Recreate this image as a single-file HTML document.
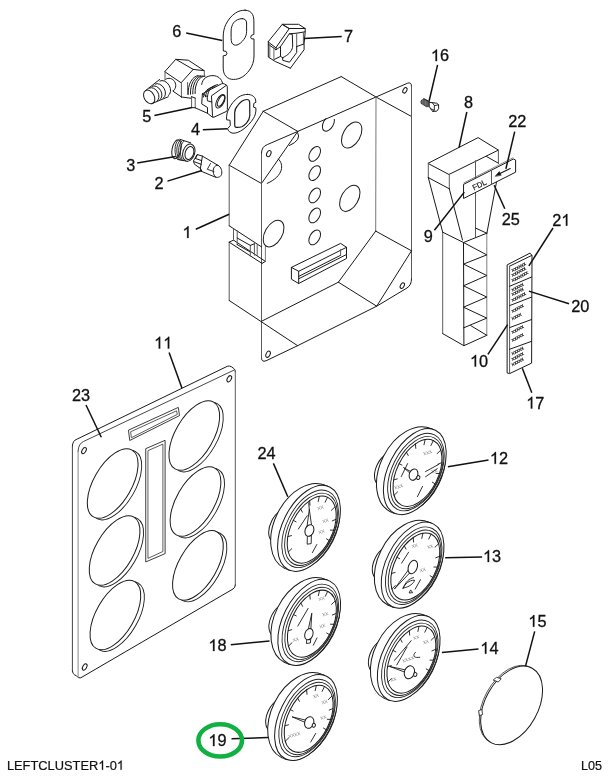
<!DOCTYPE html>
<html><head><meta charset="utf-8"><style>
html,body{margin:0;padding:0;background:#fff;width:610px;height:777px;overflow:hidden}
svg{display:block;will-change:transform}
</style></head><body>
<svg width="610" height="777" viewBox="0 0 610 777">
<rect width="610" height="777" fill="#fff"/>
<g fill="none" stroke="#1a1a1a" stroke-width="1" stroke-linejoin="round" stroke-linecap="round">
<line x1="341.2" y1="76.6" x2="263.2" y2="111.3"/>
<line x1="341.2" y1="76.6" x2="376" y2="97"/>
<line x1="376" y1="97" x2="411.5" y2="116.5"/>
<path d="M376,97 L407.5,83.2 Q411.5,81.8 411.5,86"/>
<line x1="411.5" y1="86" x2="411.5" y2="279" stroke="#5a5a5a"/>
<path d="M411.5,279 Q411.5,285 407,288 L376.7,306.2 L297.6,345.7 L266,360.8 Q261.5,362.5 261.5,358"/>
<line x1="261.5" y1="358" x2="261.5" y2="183.5" stroke="#5a5a5a"/>
<line x1="263.2" y1="111.3" x2="297.8" y2="131.4"/>
<line x1="297.8" y1="131.4" x2="376" y2="97"/>
<line x1="263.2" y1="111.3" x2="229.2" y2="165.2"/>
<line x1="229.2" y1="165.2" x2="261.5" y2="183.5"/>
<line x1="297.8" y1="131.4" x2="261.5" y2="183.5"/>
<line x1="261.5" y1="183.5" x2="261.5" y2="153" stroke="#5a5a5a"/>
<path d="M261.5,153 Q261.5,146.5 267.5,144.5 L297.8,131.4"/>
<line x1="229.2" y1="165.2" x2="229.2" y2="225.8" stroke="#5a5a5a"/>
<line x1="229.2" y1="225.8" x2="261.7" y2="247"/>
<line x1="229.2" y1="242.2" x2="229.2" y2="300.5" stroke="#5a5a5a"/>
<line x1="229.2" y1="242.2" x2="262" y2="263.4"/>
<line x1="233.5" y1="240.1" x2="265.4" y2="261.4"/>
<line x1="262" y1="263.4" x2="265.4" y2="261.4"/>
<line x1="229.2" y1="242.2" x2="233.5" y2="240.1"/>
<line x1="229.2" y1="300.5" x2="297.6" y2="345.7"/>
<line x1="233.5" y1="229" x2="233.5" y2="240.1" stroke="#5a5a5a"/>
<line x1="237.2" y1="230.6" x2="237.2" y2="244.6" stroke="#5a5a5a"/>
<line x1="237.2" y1="238" x2="250.3" y2="245.4"/>
<line x1="237.2" y1="244.6" x2="250.3" y2="252"/>
<line x1="250.3" y1="245.4" x2="250.3" y2="256" stroke="#5a5a5a"/>
<line x1="254.4" y1="243.8" x2="254.4" y2="255.3" stroke="#5a5a5a"/>
<line x1="257.2" y1="244.6" x2="257.2" y2="255.3" stroke="#5a5a5a"/>
<line x1="250.3" y1="245.4" x2="254.4" y2="243.8"/>
<line x1="265.4" y1="246.3" x2="265.4" y2="261.4" stroke="#777"/>
<line x1="376" y1="97" x2="375.7" y2="231.1" stroke="#777"/>
<line x1="375.7" y1="231.1" x2="338.4" y2="282.2"/>
<line x1="375.7" y1="231.1" x2="411.5" y2="250.8"/>
<line x1="411.5" y1="250.8" x2="376.7" y2="306.2"/>
<line x1="338.4" y1="282.2" x2="376.7" y2="306.2"/>
<line x1="338.4" y1="282.2" x2="261.5" y2="321.3"/>
<ellipse cx="404.9" cy="90.3" rx="1.8" ry="3" transform="rotate(30 404.9 90.3)"/>
<ellipse cx="402.3" cy="285.6" rx="1.8" ry="3" transform="rotate(30 402.3 285.6)"/>
<ellipse cx="268.8" cy="153.6" rx="2" ry="3.3" transform="rotate(25 268.8 153.6)"/>
<ellipse cx="268.1" cy="354.2" rx="2" ry="3.3" transform="rotate(25 268.1 354.2)"/>
<clipPath id="cb"><polygon points="297.8,131.4 376,97 376,300 297.8,300"/></clipPath>
<ellipse cx="328.4" cy="123.5" rx="5" ry="8.4" transform="rotate(29.6 328.4 123.5)" clip-path="url(#cb)"/>
<ellipse cx="351.7" cy="135" rx="8.5" ry="14.2" transform="rotate(29.6 351.7 135)"/>
<ellipse cx="349.8" cy="198.3" rx="8.5" ry="14.2" transform="rotate(29.6 349.8 198.3)"/>
<ellipse cx="314.7" cy="153.9" rx="4.9" ry="8.1" transform="rotate(29.6 314.7 153.9)"/>
<ellipse cx="314.7" cy="173.1" rx="4.9" ry="8.1" transform="rotate(29.6 314.7 173.1)"/>
<ellipse cx="314.7" cy="195.4" rx="4.9" ry="8.1" transform="rotate(29.6 314.7 195.4)"/>
<ellipse cx="314.7" cy="215.4" rx="4.9" ry="8.1" transform="rotate(29.6 314.7 215.4)"/>
<ellipse cx="314.7" cy="237.4" rx="4.9" ry="8.1" transform="rotate(29.6 314.7 237.4)"/>
<ellipse cx="273.6" cy="233.6" rx="8.6" ry="14.5" transform="rotate(29.6 273.6 233.6)"/>
<path d="M297.6,132.5 Q302,140 289.5,145.5"/>
<path d="M278.4,159.1 C284,164 284,176 267.2,183.4"/>
<polyline points="298.7,271.3 291.4,267.4 340.6,243.4 346.5,247.3 298.7,271.3 298.7,283.5 291.4,279.2 291.4,267.4"/>
<polyline points="346.5,247.3 346.5,258.5 298.7,283.5"/>
<line x1="298.7" y1="276.4" x2="340.6" y2="255.3"/>
<line x1="298.7" y1="278.8" x2="346.5" y2="254.5"/>
<line x1="340.6" y1="249.5" x2="340.6" y2="255.3" stroke="#5a5a5a"/>
<path d="M245.1,10.2 C248.5,10.2 251.2,11.8 252.6,14.5 C253.7,16.8 253.9,19.5 253.9,22 L253.9,34.4 L251.3,35.4 L250.7,37.6 L251.6,38.9 L254,38.9 L254,56 C254,61 252.5,66 249.5,70 C247,73.5 244,76.5 240,78.2 C237,79.4 234,79.6 231.5,79.3 C228.5,78.8 226,77 224.6,74.5 C223.6,72.5 223.2,70 223.2,67 L223.2,55.8 L226,55.3 L227,53.2 L226,51.3 L223.3,51 L223.2,37 C223.2,33 224,28 225.8,24.5 C228,20 231.5,15.5 235.5,13 C238.5,11 241.5,10.2 245.1,10.2 Z"/>
<path d="M242.3,18.6 C244.5,18.6 246.6,20 246.6,23 L246.6,31.5 C246.6,34 245.8,37 243.8,39.5 C242,42 239.5,44.3 237,45 C235,45.5 233,45 231.9,43 C231.2,41.5 231.1,39.5 231.1,37.5 L231.1,31 C231.1,28 232,25 233.6,22.8 C235.5,20.3 238.8,18.6 242.3,18.6 Z"/>
<path d="M247.7,94.4 C251.5,94.4 255,96.5 255.6,100 L255.9,102.3 L253.8,103.4 L253.6,107.2 L255.9,108 C256.3,112 255,116 253.4,118.5 C251,122.5 247,126.5 243,129.5 C239.5,132 236,133.4 232.9,133.2 C230,132.8 228.2,131 227.6,128.6 L230.3,125.6 L230,120.3 L226.6,119.8 C226.2,116 227.2,111.5 228.9,108.8 C231,104.5 234,100.5 238,97.5 C241,95.3 244.5,94.4 247.7,94.4 Z" fill="#fff"/>
<path d="M247.1,99.5 C248.5,99.5 249.6,100.5 249.7,102.5 L249.8,115.5 C249.6,118.5 248.5,121 246.5,123.2 C245,124.8 243.5,126 241.8,126.7 C239.5,127.5 237.5,127.6 235.8,127.3 C234.9,127 234.6,125.8 234.7,124.3 L234.7,112.5 C234.9,110 235.6,108 237,106.5 C238.5,104.3 240,102.7 241.8,101.3 C243.5,100 245.3,99.5 247.1,99.5 Z" stroke-width="1.2"/>
<polygon points="282.3,24.3 298.6,24.3 305.2,28.5 289.3,28.5"/>
<polygon points="268.3,41.6 282.3,24.3 289.3,28.5 276.1,47.4"/>
<polyline points="268.3,41.6 268.3,44.3 276.1,49.8 276.1,47.4"/>
<polyline points="276.1,49.8 280.5,46.6 289.3,33.8 296.7,33.2 305.2,31.8 305.2,28.5"/>
<line x1="296.7" y1="33.2" x2="296.7" y2="46.5" stroke="#5a5a5a"/>
<line x1="303.4" y1="32.2" x2="303.4" y2="44.2" stroke="#5a5a5a"/>
<line x1="296.7" y1="46.5" x2="303.4" y2="44.2"/>
<polyline points="305.2,31.8 304.1,43.8 304.1,49.7 290.4,68.2"/>
<line x1="269.8" y1="44.6" x2="269.8" y2="57.4" stroke="#666"/>
<line x1="273.9" y1="47.6" x2="273.9" y2="59.8" stroke="#666"/>
<polyline points="268.3,44.3 268.3,57.1 275.3,61.5 290.4,68.2"/>
<path d="M289.3,33.8 L292.3,34.3 L292.7,46 C292.5,50 289.5,54 284.7,56.6 L282.7,57.8"/>
<polyline points="280.5,46.6 280.5,56.4 282.7,57.8"/>
<polyline points="274.6,59.3 280.5,56.4"/>
<polyline points="282.7,57.8 282.7,60.3 289.5,62.2 296.7,52.5 296.7,46.5"/>
<path d="M197.5,154.6 L202.4,156.1 L218.1,165.4 C221,167 222.5,171 221.5,174.5 C220.5,177.5 217,178 214,176.6 L201.4,171.3 L200.4,168.4 L194.5,164.3 L193.5,161.5 Z" fill="#fff"/>
<path d="M218.1,165.4 C215,164.8 213,168 213.2,171.5 C213.4,174.5 214.5,176.4 216,177.2"/>
<line x1="202.4" y1="156.1" x2="200.4" y2="168.4"/>
<line x1="195.5" y1="158.5" x2="201.6" y2="160.6"/>
<line x1="194.4" y1="161.8" x2="201.1" y2="164.3"/>
<line x1="197.5" y1="154.6" x2="195.5" y2="158.5"/>
<line x1="200.4" y1="168.4" x2="201.4" y2="171.3"/>
<polyline points="210.5,163.5 207.3,169.3 214,171.5" stroke-width="0.9"/>
<path d="M179.8,139.3 L190.6,142.8 L186.8,161.2 L177.8,159.5" stroke="none" fill="#fff"/>
<ellipse cx="176.5" cy="149.3" rx="4.4" ry="9.6" fill="#fff" transform="rotate(12 176.5 149.3)"/>
<path d="M178.5,139.8 C173.8,143 173.8,156 178.1,159.8" stroke-width="0.9"/>
<path d="M180.3,140.3 C175.6,143.5 175.6,156.5 179.9,160.2" stroke-width="0.9"/>
<path d="M182.1,140.8 C177.4,144 177.4,157 181.7,160.6" stroke-width="0.9"/>
<path d="M183.8,141.3 C179.1,144.5 179.1,157.5 183.4,161" stroke-width="0.9"/>
<line x1="179.8" y1="139.3" x2="190.6" y2="142.8"/>
<line x1="177.8" y1="159.5" x2="187.5" y2="161.2"/>
<ellipse cx="188.8" cy="152.6" rx="5.9" ry="8.8" fill="#fff" transform="rotate(18 188.8 152.6)"/>
<ellipse cx="189.4" cy="153" rx="4.2" ry="6.6" transform="rotate(18 189.4 153)"/>
<polygon points="421.3,100.6 423.8,98.5 429.6,101.6 429.4,106.6 426.5,106.7 421.4,103.6" stroke-width="0.8" fill="#3a3a3a"/>
<line x1="422.6" y1="99.3" x2="422.8" y2="104.3" stroke-width="0.5" stroke="#bbb"/>
<line x1="424" y1="100" x2="424.2" y2="104.8" stroke-width="0.5" stroke="#bbb"/>
<line x1="425.4" y1="100.8" x2="425.6" y2="105.4" stroke-width="0.5" stroke="#bbb"/>
<line x1="426.8" y1="101.5" x2="427" y2="106" stroke-width="0.5" stroke="#bbb"/>
<line x1="428.2" y1="102.3" x2="428.4" y2="106.5" stroke-width="0.5" stroke="#bbb"/>
<polygon points="429.3,102.4 436.7,103.2 438.6,104.8 438.6,108.7 436.7,111.2 432.7,111.4 430.5,108.6 429.4,106.6" fill="#fff"/>
<polyline points="432.3,102.7 434.4,105.6 434.3,110.2 432.7,111.4" stroke-width="0.9"/>
<line x1="434.4" y1="105.6" x2="438.6" y2="104.8" stroke-width="0.9"/>
<line x1="430.5" y1="108.6" x2="434.3" y2="110.2" stroke-width="0.8"/>
<ellipse cx="149.2" cy="96.9" rx="5" ry="7.3" fill="#fff" transform="rotate(-30 149.2 96.9)"/>
<path d="M149.4,88.1 A5.2,7.5 -30 0 1 156.9,101.1"/>
<path d="M152.1,86.3 A5.3,7.7 -30 0 1 159.8,99.7"/>
<path d="M155.2,84.1 A5.5,8 -30 0 1 163.3,98.1"/>
<path d="M159.9,81 A5.8,8.4 -30 0 1 168.3,95.6"/>
<line x1="145.5" y1="90.6" x2="159.6" y2="79.5"/>
<line x1="152.9" y1="103.2" x2="168.2" y2="96.8"/>
<path d="M165,79.9 C167,77.6 171,77.6 173.8,80.5 C176.5,83.5 176.5,88 173.5,90.7"/>
<polygon points="165,71.4 175.8,59.3 193.2,69.4 181.4,82.5" fill="#fff"/>
<polyline points="175.8,59.3 188.3,60.2 204.3,70.7 193.2,69.4"/>
<line x1="165" y1="71.4" x2="165" y2="79.9" stroke="#5a5a5a"/>
<line x1="181.4" y1="82.5" x2="181.4" y2="97" stroke="#5a5a5a"/>
<line x1="172.9" y1="91.1" x2="181.4" y2="97"/>
<line x1="181.4" y1="97" x2="191.4" y2="98.3"/>
<line x1="204.3" y1="70.7" x2="204.3" y2="76.6" stroke="#5a5a5a"/>
<path d="M188.2,94.5 C187.7,84 192.2,76.5 198.2,75.5"/>
<path d="M190.5,94.2 C190,84 194.5,76.3 200.5,75.7"/>
<path d="M192.8,93.9 C192.3,84 196.8,76.1 202.8,75.9"/>
<path d="M195.1,93.6 C194.6,84 199.1,75.9 205.1,76.1"/>
<line x1="187.6" y1="82.5" x2="187.6" y2="94.3" stroke="#5a5a5a"/>
<path d="M201.7,84.4 C202.5,78.5 207,75.6 213,75.6 C218,75.8 221.8,78.8 222.6,83.4"/>
<line x1="191.6" y1="96.7" x2="191.6" y2="107.5" stroke="#5a5a5a"/>
<line x1="195.2" y1="98.1" x2="195.2" y2="107.5" stroke="#5a5a5a"/>
<line x1="191.6" y1="107.5" x2="195.2" y2="107.8"/>
<line x1="195.2" y1="107.8" x2="207.5" y2="113.3"/>
<line x1="191.6" y1="96.7" x2="195.2" y2="98.1"/>
<path d="M202.4,93.8 L221.5,83.8 Q222.8,83.2 224.2,83.9 L226.4,85.1" fill="#fff"/>
<path d="M211.8,95.6 L226,85.6 Q227.2,85 227.3,86.5 L227.4,109.5 Q227.4,111 226,111.6 L214,117.2 Q212.5,117.8 212.5,116.2 Z" fill="#fff"/>
<polyline points="202.4,93.8 201.7,103.9 207.5,107.5 207.5,113.3 212.4,117.2"/>
<polyline points="202.4,93.8 207.2,96.5 207.4,100.8 211.8,102"/>
<path d="M203.5,97 C204,91 208,88 213.5,87"/>
<path d="M205.5,96.8 C206,90.2 210,87 215.5,85.8"/>
<path d="M207.5,96.6 C208,89.4 212,86 217.5,84.6"/>
<ellipse cx="220.4" cy="101.3" rx="3.6" ry="7.4" transform="rotate(28 220.4 101.3)"/>
<ellipse cx="221" cy="100.8" rx="2.5" ry="6" transform="rotate(28 221 100.8)"/>
<polygon points="428.3,163.2 478.1,137.6 498.4,150.1 449.3,174.3"/>
<line x1="428.3" y1="163.2" x2="428.3" y2="177.6" stroke="#5a5a5a"/>
<line x1="449.3" y1="174.3" x2="449.3" y2="188.8" stroke="#5a5a5a"/>
<line x1="428.3" y1="177.6" x2="449.3" y2="188.8"/>
<line x1="498.4" y1="150.1" x2="498.4" y2="163.2" stroke="#5a5a5a"/>
<line x1="475.5" y1="160.6" x2="475.5" y2="178.3" stroke="#5a5a5a"/>
<line x1="486.5" y1="156.5" x2="498.4" y2="163.2"/>
<line x1="428.3" y1="177.6" x2="442.7" y2="232.2"/>
<line x1="449.3" y1="188.8" x2="462.5" y2="240"/>
<line x1="475.5" y1="178.3" x2="475.5" y2="237.4" stroke="#5a5a5a"/>
<line x1="496.5" y1="182" x2="486.9" y2="233.2"/>
<line x1="442.7" y1="232.2" x2="442.7" y2="333.6" stroke="#5a5a5a"/>
<polyline points="442.7,333.6 463.9,345.7 486.8,335.3"/>
<line x1="486.8" y1="335.3" x2="486.8" y2="233.2" stroke="#808080"/>
<line x1="442.7" y1="232.2" x2="463.5" y2="242.5"/>
<line x1="463.5" y1="242.5" x2="463.9" y2="345.7"/>
<line x1="463.5" y1="242.5" x2="486.8" y2="233.2"/>
<line x1="475.6" y1="228.1" x2="486.8" y2="233.2"/>
<polyline points="463.5,242.5 486.8,254.9 463.5,264.1 486.8,275.5 463.5,285.8 486.8,297.1 463.5,307.2 486.8,318.1 463.5,327.9"/>
<line x1="470.7" y1="325.6" x2="486.8" y2="335.3"/>
<polygon points="463.9,184.2 513.4,159 515.6,160 515.6,172.2 463.9,198.3" fill="#fff"/>
<line x1="463.9" y1="182.9" x2="513" y2="157.8" stroke-width="0.8" stroke="#666"/>
<line x1="491.5" y1="170.8" x2="491.5" y2="184.4" stroke="#5a5a5a"/>
<text x="0" y="0" font-size="7.8" fill="#222" stroke="#222" stroke-width="0.15" font-family="Liberation Sans, sans-serif" transform="translate(474.0,190.6) rotate(-27)">FDL</text>
<line x1="510.2" y1="168.6" x2="499" y2="174.1" stroke-width="1.1"/>
<path d="M495.4,176.1 L499.3,171.6 L501.0,175.0 Z" stroke-width="0.6" fill="#111"/>
<polygon points="507.5,264.7 530,253.1 532,255.4 531.6,363.1 509.6,373.6 507.5,373" fill="#fff"/>
<line x1="509.6" y1="266.2" x2="531.6" y2="255.5"/>
<line x1="509.6" y1="266.2" x2="509.6" y2="373.6" stroke="#5a5a5a"/>
<line x1="509.6" y1="286.3" x2="531.6" y2="277"/>
<line x1="509.6" y1="305.6" x2="531.6" y2="297.1"/>
<line x1="509.6" y1="327.6" x2="531.6" y2="319.5"/>
<line x1="509.6" y1="349.3" x2="531.6" y2="341.3"/>
<text x="0" y="0" font-size="3.9" fill="#222" stroke="#222" stroke-width="0.3" font-family="Liberation Sans, sans-serif" transform="translate(512.6,272) rotate(-28)">XXXXXX</text>
<text x="0" y="0" font-size="3.9" fill="#222" stroke="#222" stroke-width="0.3" font-family="Liberation Sans, sans-serif" transform="translate(512.6,276.7) rotate(-28)">XXXXXX</text>
<text x="0" y="0" font-size="3.9" fill="#222" stroke="#222" stroke-width="0.3" font-family="Liberation Sans, sans-serif" transform="translate(512.6,282.1) rotate(-28)">XXXXXXX</text>
<text x="0" y="0" font-size="3.9" fill="#222" stroke="#222" stroke-width="0.3" font-family="Liberation Sans, sans-serif" transform="translate(512.6,291.4) rotate(-28)">XXXXX</text>
<text x="0" y="0" font-size="3.9" fill="#222" stroke="#222" stroke-width="0.3" font-family="Liberation Sans, sans-serif" transform="translate(512.6,296) rotate(-28)">XXXXX</text>
<text x="0" y="0" font-size="3.9" fill="#222" stroke="#222" stroke-width="0.3" font-family="Liberation Sans, sans-serif" transform="translate(512.6,301.8) rotate(-28)">XXXXXX</text>
<text x="0" y="0" font-size="3.9" fill="#222" stroke="#222" stroke-width="0.3" font-family="Liberation Sans, sans-serif" transform="translate(512.6,312.7) rotate(-28)">XXXXX</text>
<text x="0" y="0" font-size="3.9" fill="#222" stroke="#222" stroke-width="0.3" font-family="Liberation Sans, sans-serif" transform="translate(512.6,320.2) rotate(-28)">XXXX</text>
<text x="0" y="0" font-size="3.9" fill="#222" stroke="#222" stroke-width="0.3" font-family="Liberation Sans, sans-serif" transform="translate(512.6,333.7) rotate(-28)">XXXXX</text>
<text x="0" y="0" font-size="3.9" fill="#222" stroke="#222" stroke-width="0.3" font-family="Liberation Sans, sans-serif" transform="translate(512.6,341.7) rotate(-28)">XXXXX</text>
<text x="0" y="0" font-size="3.9" fill="#222" stroke="#222" stroke-width="0.3" font-family="Liberation Sans, sans-serif" transform="translate(512.6,355.2) rotate(-28)">XXXXX</text>
<text x="0" y="0" font-size="3.9" fill="#222" stroke="#222" stroke-width="0.3" font-family="Liberation Sans, sans-serif" transform="translate(512.6,360.7) rotate(-28)">XXXXX</text>
<text x="0" y="0" font-size="3.9" fill="#222" stroke="#222" stroke-width="0.3" font-family="Liberation Sans, sans-serif" transform="translate(512.6,366.2) rotate(-28)">XXXXX</text>
<g>
<path d="M72.4,446 Q72.6,440.5 77.1,439.1 L227.3,366.3 Q229.5,365.5 231.5,366.8 L233.8,368.5 Q235.3,369.6 235.3,371.5"/>
<line x1="235.3" y1="371.5" x2="235.3" y2="585" stroke="#5a5a5a"/>
<path d="M235.3,585 Q235.3,587.6 233,589 L80.8,677.8 Q78,678.6 76.5,675.8 Q72.4,674.5 72.4,670.5"/>
<line x1="72.4" y1="670.5" x2="72.4" y2="446" stroke="#444"/>
<line x1="78.1" y1="676.5" x2="78.1" y2="451.2" stroke="#888"/>
<path d="M78.1,451.2 Q78.4,443.5 83.7,441.4 L233.8,370.2" stroke-width="0.9" stroke="#333"/>
<ellipse cx="84" cy="450.6" rx="1.9" ry="3.4" transform="rotate(30 84 450.6)"/>
<ellipse cx="229.3" cy="378.8" rx="1.9" ry="3.4" transform="rotate(30 229.3 378.8)"/>
<ellipse cx="84.7" cy="667" rx="1.9" ry="3.4" transform="rotate(30 84.7 667)"/>
<ellipse cx="116.3" cy="485.1" rx="19" ry="38.6" stroke-width="0.9" transform="rotate(30 116.3 485.1)"/>
<ellipse cx="112.7" cy="483.5" rx="19" ry="38.6" fill="#fff" transform="rotate(30 112.7 483.5)"/>
<ellipse cx="118.2" cy="552.1" rx="19" ry="38.6" stroke-width="0.9" transform="rotate(30 118.2 552.1)"/>
<ellipse cx="114.6" cy="550.5" rx="19" ry="38.6" fill="#fff" transform="rotate(30 114.6 550.5)"/>
<ellipse cx="119" cy="616.6" rx="19" ry="38.6" stroke-width="0.9" transform="rotate(30 119 616.6)"/>
<ellipse cx="115.4" cy="615" rx="19" ry="38.6" fill="#fff" transform="rotate(30 115.4 615)"/>
<ellipse cx="197.9" cy="437.1" rx="19" ry="38.6" stroke-width="0.9" transform="rotate(30 197.9 437.1)"/>
<ellipse cx="194.3" cy="435.5" rx="19" ry="38.6" fill="#fff" transform="rotate(30 194.3 435.5)"/>
<ellipse cx="199.1" cy="503.1" rx="19" ry="38.6" stroke-width="0.9" transform="rotate(30 199.1 503.1)"/>
<ellipse cx="195.5" cy="501.5" rx="19" ry="38.6" fill="#fff" transform="rotate(30 195.5 501.5)"/>
<ellipse cx="201.5" cy="567" rx="19" ry="38.6" stroke-width="0.9" transform="rotate(30 201.5 567)"/>
<ellipse cx="197.9" cy="565.4" rx="19" ry="38.6" fill="#fff" transform="rotate(30 197.9 565.4)"/>
<polygon points="128.8,430 178.3,407.4 179.5,415.6 130.1,440.3" stroke-width="0.85"/>
<polygon points="131,431.6 176.6,410.8 177.3,414.4 131.7,437.6" stroke-width="0.8" stroke="#333"/>
<polygon points="146.1,448.5 165.1,440.3 165.1,553.6 146.1,561.8" stroke-width="0.85"/>
<polygon points="148.3,450.5 162.9,444.1 162.9,551.5 148.3,558.2" stroke-width="0.8" stroke="#333"/>
</g>
<ellipse cx="386.4" cy="468.8" rx="10" ry="17.6" fill="#fff" transform="rotate(26.6 386.4 468.8)"/>
<ellipse cx="411" cy="470.4" rx="30.9" ry="46.2" fill="#fff" transform="rotate(26.6 411 470.4)"/>
<polygon points="428.7,427.9 433.4,429.4 396.2,513.8 393.3,512.9" stroke="none" fill="#fff"/>
<line x1="428.7" y1="427.9" x2="433.4" y2="429.4"/>
<line x1="393.3" y1="512.9" x2="396.2" y2="513.8"/>
<ellipse cx="414.8" cy="471.6" rx="26.4" ry="46.2" stroke-width="1.0" fill="#fff" transform="rotate(26.6 414.8 471.6)"/>
<ellipse cx="415.9" cy="472.1" rx="23.8" ry="41.6" stroke-width="0.9" stroke="#222" transform="rotate(26.6 415.9 472.1)"/>
<ellipse cx="416.8" cy="472.6" rx="22.2" ry="38.8" stroke-width="0.9" stroke="#222" transform="rotate(26.6 416.8 472.6)"/>
<ellipse cx="417.5" cy="472.9" rx="20.6" ry="36" stroke-width="1.0" transform="rotate(26.6 417.5 472.9)"/>
<line x1="394" y1="495.4" x2="397.6" y2="491.9" stroke-width="0.9"/>
<line x1="393.7" y1="479.9" x2="397.3" y2="478.9" stroke-width="0.9"/>
<line x1="399.1" y1="463.7" x2="401.9" y2="465.1" stroke-width="0.9"/>
<line x1="406.5" y1="452.3" x2="408.2" y2="455.5" stroke-width="0.9"/>
<line x1="415.4" y1="443.9" x2="415.8" y2="448.4" stroke-width="0.9"/>
<line x1="425.1" y1="439.7" x2="424" y2="444.8" stroke-width="0.9"/>
<line x1="433.3" y1="440.6" x2="430.9" y2="445.5" stroke-width="0.9"/>
<line x1="440.8" y1="450.1" x2="437.2" y2="453.6" stroke-width="0.9"/>
<line x1="441.8" y1="462.6" x2="438" y2="464.2" stroke-width="0.9"/>
<line x1="439.4" y1="473.5" x2="436.1" y2="473.4" stroke-width="0.9"/>
<line x1="435" y1="483.8" x2="432.3" y2="482.2" stroke-width="0.9"/>
<text x="423.8" y="455.6" font-size="4.6" fill="#777" stroke="none" font-family="Liberation Sans, sans-serif" transform="rotate(-18 423.8 455.6)">XXX</text>
<text x="394.8" y="489.6" font-size="4.6" fill="#777" stroke="none" font-family="Liberation Sans, sans-serif" transform="rotate(-18 394.8 489.6)">XXX</text>
<text x="431.8" y="473.6" font-size="4.6" fill="#777" stroke="none" font-family="Liberation Sans, sans-serif" transform="rotate(-18 431.8 473.6)">XX</text>
<line x1="425.5" y1="471.6" x2="438.8" y2="464.3" stroke-width="0.9"/>
<line x1="425.5" y1="476.8" x2="437.3" y2="468.7" stroke-width="0.9"/>
<line x1="417.4" y1="496.7" x2="422.5" y2="486.4" stroke-width="0.9"/>
<line x1="401.3" y1="476.5" x2="407.6" y2="463.6" stroke-width="0.9"/>
<path d="M414.2,473.6 L403.5,467.5 L412.8,475.6" stroke-width="0.9"/>
<ellipse cx="413.5" cy="474.6" rx="4.2" ry="5.8" fill="#fff" transform="rotate(20 413.5 474.6)"/>
<ellipse cx="418.3" cy="477.6" rx="1.6" ry="2" fill="#fff" transform="rotate(20 418.3 477.6)"/>
<ellipse cx="280.6" cy="525.5" rx="10" ry="17.6" fill="#fff" transform="rotate(26.6 280.6 525.5)"/>
<ellipse cx="305.2" cy="527.1" rx="30.9" ry="46.2" fill="#fff" transform="rotate(26.6 305.2 527.1)"/>
<polygon points="322.9,484.6 327.6,486.1 290.4,570.5 287.5,569.6" stroke="none" fill="#fff"/>
<line x1="322.9" y1="484.6" x2="327.6" y2="486.1"/>
<line x1="287.5" y1="569.6" x2="290.4" y2="570.5"/>
<ellipse cx="309" cy="528.3" rx="26.4" ry="46.2" stroke-width="1.0" fill="#fff" transform="rotate(26.6 309 528.3)"/>
<ellipse cx="310.1" cy="528.8" rx="23.8" ry="41.6" stroke-width="0.9" stroke="#222" transform="rotate(26.6 310.1 528.8)"/>
<ellipse cx="311" cy="529.3" rx="22.2" ry="38.8" stroke-width="0.9" stroke="#222" transform="rotate(26.6 311 529.3)"/>
<ellipse cx="311.7" cy="529.6" rx="20.6" ry="36" stroke-width="1.0" transform="rotate(26.6 311.7 529.6)"/>
<line x1="288.2" y1="552.1" x2="291.8" y2="548.6" stroke-width="0.9"/>
<line x1="287.9" y1="536.6" x2="291.5" y2="535.6" stroke-width="0.9"/>
<line x1="293.3" y1="520.4" x2="296.1" y2="521.8" stroke-width="0.9"/>
<line x1="300.7" y1="509" x2="302.4" y2="512.2" stroke-width="0.9"/>
<line x1="309.6" y1="500.6" x2="310" y2="505.1" stroke-width="0.9"/>
<line x1="319.3" y1="496.4" x2="318.2" y2="501.5" stroke-width="0.9"/>
<line x1="327.5" y1="497.3" x2="325.1" y2="502.2" stroke-width="0.9"/>
<line x1="335" y1="506.8" x2="331.4" y2="510.3" stroke-width="0.9"/>
<line x1="336" y1="519.3" x2="332.2" y2="520.9" stroke-width="0.9"/>
<line x1="333.6" y1="530.2" x2="330.3" y2="530.1" stroke-width="0.9"/>
<line x1="329.2" y1="540.5" x2="326.5" y2="538.9" stroke-width="0.9"/>
<text x="318" y="510.3" font-size="4.6" fill="#777" stroke="none" font-family="Liberation Sans, sans-serif" transform="rotate(-18 318 510.3)">XX</text>
<text x="323" y="523.3" font-size="4.6" fill="#777" stroke="none" font-family="Liberation Sans, sans-serif" transform="rotate(-18 323 523.3)">XX</text>
<text x="319" y="534.3" font-size="4.6" fill="#777" stroke="none" font-family="Liberation Sans, sans-serif" transform="rotate(-18 319 534.3)">XX</text>
<line x1="298.4" y1="529" x2="307.2" y2="515.7" stroke-width="0.9"/>
<line x1="312.4" y1="552.6" x2="316.8" y2="544.5" stroke-width="0.9"/>
<path d="M312.3,530.5 L309.3,509.4 L306.5,530.5" stroke-width="0.9"/>
<polyline points="307.4,533.5 307.2,544.2 311.2,543.6 311.4,533.5" stroke-width="0.9" fill="#fff"/>
<ellipse cx="309.4" cy="530.5" rx="4.3" ry="6" fill="#fff" transform="rotate(20 309.4 530.5)"/>
<path d="M309.3,509.4 L308.7,502.8" stroke-width="0.9"/>
<ellipse cx="384.2" cy="562.4" rx="10" ry="17.6" fill="#fff" transform="rotate(26.6 384.2 562.4)"/>
<ellipse cx="408.8" cy="564" rx="30.9" ry="46.2" fill="#fff" transform="rotate(26.6 408.8 564)"/>
<polygon points="426.5,521.5 431.2,523 394,607.4 391.1,606.5" stroke="none" fill="#fff"/>
<line x1="426.5" y1="521.5" x2="431.2" y2="523"/>
<line x1="391.1" y1="606.5" x2="394" y2="607.4"/>
<ellipse cx="412.6" cy="565.2" rx="26.4" ry="46.2" stroke-width="1.0" fill="#fff" transform="rotate(26.6 412.6 565.2)"/>
<ellipse cx="413.7" cy="565.7" rx="23.8" ry="41.6" stroke-width="0.9" stroke="#222" transform="rotate(26.6 413.7 565.7)"/>
<ellipse cx="414.6" cy="566.2" rx="22.2" ry="38.8" stroke-width="0.9" stroke="#222" transform="rotate(26.6 414.6 566.2)"/>
<ellipse cx="415.3" cy="566.5" rx="20.6" ry="36" stroke-width="1.0" transform="rotate(26.6 415.3 566.5)"/>
<line x1="391.8" y1="589" x2="395.4" y2="585.5" stroke-width="0.9"/>
<line x1="391.5" y1="573.5" x2="395.1" y2="572.5" stroke-width="0.9"/>
<line x1="396.9" y1="557.3" x2="399.7" y2="558.7" stroke-width="0.9"/>
<line x1="404.3" y1="545.9" x2="406" y2="549.1" stroke-width="0.9"/>
<line x1="413.2" y1="537.5" x2="413.6" y2="542" stroke-width="0.9"/>
<line x1="422.9" y1="533.3" x2="421.8" y2="538.4" stroke-width="0.9"/>
<line x1="431.1" y1="534.2" x2="428.7" y2="539.1" stroke-width="0.9"/>
<line x1="438.6" y1="543.7" x2="435" y2="547.2" stroke-width="0.9"/>
<line x1="439.6" y1="556.2" x2="435.8" y2="557.8" stroke-width="0.9"/>
<line x1="437.2" y1="567.1" x2="433.9" y2="567" stroke-width="0.9"/>
<line x1="432.8" y1="577.4" x2="430.1" y2="575.8" stroke-width="0.9"/>
<text x="412.2" y="548.3" font-size="4.6" fill="#777" stroke="none" font-family="Liberation Sans, sans-serif" transform="rotate(-18 412.2 548.3)">XX</text>
<text x="427.7" y="549.1" font-size="4.6" fill="#777" stroke="none" font-family="Liberation Sans, sans-serif" transform="rotate(-18 427.7 549.1)">XX</text>
<text x="420.3" y="572.4" font-size="4.6" fill="#777" stroke="none" font-family="Liberation Sans, sans-serif" transform="rotate(-18 420.3 572.4)">XX</text>
<line x1="401.6" y1="563.2" x2="408.6" y2="552.2" stroke-width="0.9"/>
<path d="M411.4,565.8 L394.3,589.1 L414.2,568.2" stroke-width="0.9"/>
<ellipse cx="412.8" cy="567" rx="4.4" ry="7" fill="#fff" transform="rotate(20 412.8 567)"/>
<path d="M403.1,588.1 C405,584 409,580 414.6,580.2 C413.5,583.5 409.5,587 403.1,588.1 Z" stroke-width="0.9"/>
<path d="M403.1,588.1 C405.5,582 409,578.5 413.5,577.6" stroke-width="0.9"/>
<path d="M420.5,579.6 L415.2,589.1" stroke-width="0.9"/>
<path d="M409.3,592.6 L410.6,589.9 L412.4,592.4 Z" stroke-width="0.9"/>
<ellipse cx="280.8" cy="619.6" rx="10" ry="17.6" fill="#fff" transform="rotate(26.6 280.8 619.6)"/>
<ellipse cx="305.4" cy="621.2" rx="30.9" ry="46.2" fill="#fff" transform="rotate(26.6 305.4 621.2)"/>
<polygon points="323.1,578.7 327.8,580.2 290.6,664.6 287.7,663.7" stroke="none" fill="#fff"/>
<line x1="323.1" y1="578.7" x2="327.8" y2="580.2"/>
<line x1="287.7" y1="663.7" x2="290.6" y2="664.6"/>
<ellipse cx="309.2" cy="622.4" rx="26.4" ry="46.2" stroke-width="1.0" fill="#fff" transform="rotate(26.6 309.2 622.4)"/>
<ellipse cx="310.3" cy="622.9" rx="23.8" ry="41.6" stroke-width="0.9" stroke="#222" transform="rotate(26.6 310.3 622.9)"/>
<ellipse cx="311.2" cy="623.4" rx="22.2" ry="38.8" stroke-width="0.9" stroke="#222" transform="rotate(26.6 311.2 623.4)"/>
<ellipse cx="311.9" cy="623.7" rx="20.6" ry="36" stroke-width="1.0" transform="rotate(26.6 311.9 623.7)"/>
<line x1="288.4" y1="646.2" x2="292" y2="642.7" stroke-width="0.9"/>
<line x1="288.1" y1="630.7" x2="291.7" y2="629.7" stroke-width="0.9"/>
<line x1="293.5" y1="614.5" x2="296.3" y2="615.9" stroke-width="0.9"/>
<line x1="300.9" y1="603.1" x2="302.6" y2="606.3" stroke-width="0.9"/>
<line x1="309.8" y1="594.7" x2="310.2" y2="599.2" stroke-width="0.9"/>
<line x1="319.5" y1="590.5" x2="318.4" y2="595.6" stroke-width="0.9"/>
<line x1="327.7" y1="591.4" x2="325.3" y2="596.3" stroke-width="0.9"/>
<line x1="335.2" y1="600.9" x2="331.6" y2="604.4" stroke-width="0.9"/>
<line x1="336.2" y1="613.4" x2="332.4" y2="615" stroke-width="0.9"/>
<line x1="333.8" y1="624.3" x2="330.5" y2="624.2" stroke-width="0.9"/>
<line x1="329.4" y1="634.6" x2="326.7" y2="633" stroke-width="0.9"/>
<text x="319.1" y="601.1" font-size="4.6" fill="#777" stroke="none" font-family="Liberation Sans, sans-serif" transform="rotate(-18 319.1 601.1)">XX</text>
<text x="322.8" y="616.6" font-size="4.6" fill="#777" stroke="none" font-family="Liberation Sans, sans-serif" transform="rotate(-18 322.8 616.6)">XX</text>
<text x="319.9" y="628.4" font-size="4.6" fill="#777" stroke="none" font-family="Liberation Sans, sans-serif" transform="rotate(-18 319.9 628.4)">XX</text>
<text x="293.3" y="642.1" font-size="4.6" fill="#777" stroke="none" font-family="Liberation Sans, sans-serif" transform="rotate(-18 293.3 642.1)">XX</text>
<line x1="297.8" y1="626.1" x2="308.1" y2="608.4" stroke-width="0.9"/>
<line x1="313.3" y1="645.2" x2="317" y2="637.9" stroke-width="0.9"/>
<path d="M310.5,634.4 L311.8,613.2 L307.3,634" stroke-width="0.9"/>
<polyline points="306.9,637.2 306.4,643.5 310.4,642.9 310.9,637.2" stroke-width="0.9" fill="#fff"/>
<ellipse cx="308.9" cy="634.2" rx="4" ry="5.8" fill="#fff" transform="rotate(20 308.9 634.2)"/>
<ellipse cx="380.3" cy="655.5" rx="10" ry="17.6" fill="#fff" transform="rotate(26.6 380.3 655.5)"/>
<ellipse cx="404.9" cy="657.1" rx="30.9" ry="46.2" fill="#fff" transform="rotate(26.6 404.9 657.1)"/>
<polygon points="422.6,614.6 427.3,616.1 390.1,700.5 387.2,699.6" stroke="none" fill="#fff"/>
<line x1="422.6" y1="614.6" x2="427.3" y2="616.1"/>
<line x1="387.2" y1="699.6" x2="390.1" y2="700.5"/>
<ellipse cx="408.7" cy="658.3" rx="26.4" ry="46.2" stroke-width="1.0" fill="#fff" transform="rotate(26.6 408.7 658.3)"/>
<ellipse cx="409.8" cy="658.8" rx="23.8" ry="41.6" stroke-width="0.9" stroke="#222" transform="rotate(26.6 409.8 658.8)"/>
<ellipse cx="410.7" cy="659.3" rx="22.2" ry="38.8" stroke-width="0.9" stroke="#222" transform="rotate(26.6 410.7 659.3)"/>
<ellipse cx="411.4" cy="659.6" rx="20.6" ry="36" stroke-width="1.0" transform="rotate(26.6 411.4 659.6)"/>
<line x1="387.9" y1="682.1" x2="391.5" y2="678.6" stroke-width="0.9"/>
<line x1="387.6" y1="666.6" x2="391.2" y2="665.6" stroke-width="0.9"/>
<line x1="393" y1="650.4" x2="395.8" y2="651.8" stroke-width="0.9"/>
<line x1="400.4" y1="639" x2="402.1" y2="642.2" stroke-width="0.9"/>
<line x1="409.3" y1="630.6" x2="409.7" y2="635.1" stroke-width="0.9"/>
<line x1="419" y1="626.4" x2="417.9" y2="631.5" stroke-width="0.9"/>
<line x1="427.2" y1="627.3" x2="424.8" y2="632.2" stroke-width="0.9"/>
<line x1="434.7" y1="636.8" x2="431.1" y2="640.3" stroke-width="0.9"/>
<line x1="435.7" y1="649.3" x2="431.9" y2="650.9" stroke-width="0.9"/>
<line x1="433.3" y1="660.2" x2="430" y2="660.1" stroke-width="0.9"/>
<line x1="428.9" y1="670.5" x2="426.2" y2="668.9" stroke-width="0.9"/>
<text x="413.8" y="640" font-size="4.6" fill="#777" stroke="none" font-family="Liberation Sans, sans-serif" transform="rotate(-18 413.8 640)">XX</text>
<text x="423.4" y="644.4" font-size="4.6" fill="#777" stroke="none" font-family="Liberation Sans, sans-serif" transform="rotate(-18 423.4 644.4)">XX</text>
<text x="402.7" y="662.8" font-size="4.6" fill="#777" stroke="none" font-family="Liberation Sans, sans-serif" transform="rotate(-18 402.7 662.8)">XXXX</text>
<text x="390.9" y="682" font-size="4.6" fill="#777" stroke="none" font-family="Liberation Sans, sans-serif" transform="rotate(-18 390.9 682)">XX</text>
<line x1="394.5" y1="660.4" x2="411.2" y2="640.7" stroke-width="0.9"/>
<line x1="396.8" y1="665" x2="407" y2="647" stroke-width="0.9"/>
<path d="M409.8,670.9 L389.5,666.4 L409,673.7" stroke-width="0.9"/>
<ellipse cx="409.4" cy="672.3" rx="5" ry="6.6" fill="#fff" transform="rotate(20 409.4 672.3)"/>
<ellipse cx="415.3" cy="674.5" rx="1.6" ry="2" fill="#fff" transform="rotate(20 415.3 674.5)"/>
<path d="M415.5,652.3 C414,653.5 413.3,655.5 414.5,656.8 C415.5,657.6 417.5,657.5 419.8,657.3" stroke-width="0.9"/>
<ellipse cx="277.6" cy="714.7" rx="10" ry="17.6" fill="#fff" transform="rotate(26.6 277.6 714.7)"/>
<ellipse cx="302.2" cy="716.3" rx="30.9" ry="46.2" fill="#fff" transform="rotate(26.6 302.2 716.3)"/>
<polygon points="319.9,673.8 324.6,675.3 287.4,759.7 284.5,758.8" stroke="none" fill="#fff"/>
<line x1="319.9" y1="673.8" x2="324.6" y2="675.3"/>
<line x1="284.5" y1="758.8" x2="287.4" y2="759.7"/>
<ellipse cx="306" cy="717.5" rx="26.4" ry="46.2" stroke-width="1.0" fill="#fff" transform="rotate(26.6 306 717.5)"/>
<ellipse cx="307.1" cy="718" rx="23.8" ry="41.6" stroke-width="0.9" stroke="#222" transform="rotate(26.6 307.1 718)"/>
<ellipse cx="308" cy="718.5" rx="22.2" ry="38.8" stroke-width="0.9" stroke="#222" transform="rotate(26.6 308 718.5)"/>
<ellipse cx="308.7" cy="718.8" rx="20.6" ry="36" stroke-width="1.0" transform="rotate(26.6 308.7 718.8)"/>
<line x1="285.2" y1="741.3" x2="288.8" y2="737.8" stroke-width="0.9"/>
<line x1="284.9" y1="725.8" x2="288.5" y2="724.8" stroke-width="0.9"/>
<line x1="290.3" y1="709.6" x2="293.1" y2="711" stroke-width="0.9"/>
<line x1="297.7" y1="698.2" x2="299.4" y2="701.4" stroke-width="0.9"/>
<line x1="306.6" y1="689.8" x2="307" y2="694.3" stroke-width="0.9"/>
<line x1="316.3" y1="685.6" x2="315.2" y2="690.7" stroke-width="0.9"/>
<line x1="324.5" y1="686.5" x2="322.1" y2="691.4" stroke-width="0.9"/>
<line x1="332" y1="696" x2="328.4" y2="699.5" stroke-width="0.9"/>
<line x1="333" y1="708.5" x2="329.2" y2="710.1" stroke-width="0.9"/>
<line x1="330.6" y1="719.4" x2="327.3" y2="719.3" stroke-width="0.9"/>
<line x1="326.2" y1="729.7" x2="323.5" y2="728.1" stroke-width="0.9"/>
<text x="313.4" y="698.5" font-size="4.6" fill="#777" stroke="none" font-family="Liberation Sans, sans-serif" transform="rotate(-18 313.4 698.5)">XX</text>
<text x="322.2" y="704.4" font-size="4.6" fill="#777" stroke="none" font-family="Liberation Sans, sans-serif" transform="rotate(-18 322.2 704.4)">XX</text>
<text x="320.8" y="719.9" font-size="4.6" fill="#777" stroke="none" font-family="Liberation Sans, sans-serif" transform="rotate(-18 320.8 719.9)">XX</text>
<text x="289" y="738.3" font-size="4.6" fill="#777" stroke="none" font-family="Liberation Sans, sans-serif" transform="rotate(-18 289 738.3)">XXXX</text>
<line x1="310.7" y1="742" x2="315.7" y2="733.4" stroke-width="0.9"/>
<path d="M309.7,721.1 L292,716.8 L308.7,723.9" stroke-width="0.9"/>
<ellipse cx="309.2" cy="722.5" rx="4.5" ry="6" fill="#fff" transform="rotate(20 309.2 722.5)"/>
<ellipse cx="313.8" cy="725.3" rx="1.6" ry="2" fill="#fff" transform="rotate(20 313.8 725.3)"/>
<ellipse cx="510.2" cy="704.6" rx="26.4" ry="42.5" stroke-width="0.8" stroke="#444" transform="rotate(29 510.2 704.6)"/>
<ellipse cx="511.6" cy="705.4" rx="26.4" ry="42.5" fill="#fff" transform="rotate(29 511.6 705.4)"/>
<path d="M493.5,679.8 L496.5,677.3 L501.2,678.8 L498.5,681.8 Z" stroke-width="0.8" fill="#fff"/>
<path d="M479,710.5 L481.8,709.5 L482.6,714.5 L479.6,715.6 Z" stroke-width="0.8" fill="#fff"/>
</g>
<g stroke="#111" stroke-width="1.5">
<line x1="186.2" y1="32.9" x2="222.3" y2="40.6"/>
<line x1="341.7" y1="36.4" x2="303.9" y2="38.4"/>
<line x1="154.4" y1="115.6" x2="192.1" y2="107.4"/>
<line x1="202.8" y1="129.8" x2="227.5" y2="128.7"/>
<line x1="137.2" y1="163.1" x2="175.7" y2="156.6"/>
<line x1="167.5" y1="181.1" x2="202" y2="170.5"/>
<line x1="195.8" y1="229.3" x2="229.1" y2="214.3"/>
<line x1="437.6" y1="64.8" x2="429.1" y2="101"/>
<line x1="466.8" y1="112" x2="459" y2="147.6"/>
<line x1="514.7" y1="131.7" x2="505.9" y2="168.9"/>
<line x1="434.4" y1="230.3" x2="464.3" y2="192.1"/>
<line x1="504.8" y1="208.7" x2="494.2" y2="185.2"/>
<line x1="553" y1="228" x2="528.9" y2="265.8"/>
<line x1="569" y1="303.7" x2="528.9" y2="291.1"/>
<line x1="487.9" y1="354.4" x2="507.6" y2="324.6"/>
<line x1="531.8" y1="392.8" x2="522.3" y2="368.2"/>
<line x1="169.1" y1="352.4" x2="181.9" y2="388"/>
<line x1="86" y1="405" x2="101.3" y2="437.3"/>
<line x1="273.4" y1="463.4" x2="287.8" y2="496.8"/>
<line x1="488.5" y1="459.9" x2="447.9" y2="466.7"/>
<line x1="482.1" y1="557" x2="445.2" y2="557.7"/>
<line x1="230.8" y1="644.7" x2="269.5" y2="641.1"/>
<line x1="478.5" y1="649.1" x2="441.9" y2="652.4"/>
<line x1="534.7" y1="631.4" x2="525.6" y2="665.9"/>
<line x1="231.5" y1="738.8" x2="268.2" y2="737.5"/>
</g>
<g fill="#111" font-family="Liberation Sans, sans-serif">
<g transform="translate(172.3 37)">
<text x="0" y="0" font-size="16.3" fill="#111" stroke="#111" stroke-width="0.3" font-family="Liberation Sans, sans-serif">6</text>
</g>
<g transform="translate(344.1 41.7)">
<text x="0" y="0" font-size="16.3" fill="#111" stroke="#111" stroke-width="0.3" font-family="Liberation Sans, sans-serif">7</text>
</g>
<g transform="translate(142.3 122.1)">
<text x="0" y="0" font-size="16.3" fill="#111" stroke="#111" stroke-width="0.3" font-family="Liberation Sans, sans-serif">5</text>
</g>
<g transform="translate(190.9 134.8)">
<text x="0" y="0" font-size="16.3" fill="#111" stroke="#111" stroke-width="0.3" font-family="Liberation Sans, sans-serif">4</text>
</g>
<g transform="translate(126.3 170.5)">
<text x="0" y="0" font-size="16.3" fill="#111" stroke="#111" stroke-width="0.3" font-family="Liberation Sans, sans-serif">3</text>
</g>
<g transform="translate(154.4 188.5)">
<text x="0" y="0" font-size="16.3" fill="#111" stroke="#111" stroke-width="0.3" font-family="Liberation Sans, sans-serif">2</text>
</g>
<g transform="translate(182.5 237.9)">
<path d="M763,0H583V1147Q518,1085 412.5,1023T223,930V1104Q374,1175 487,1276T647,1472H763Z" fill="#111" stroke="#111" stroke-width="37.7" transform="translate(0.00 0.00) scale(0.00796 -0.00796)"/>
</g>
<g transform="translate(430.9 61.1)">
<path d="M763,0H583V1147Q518,1085 412.5,1023T223,930V1104Q374,1175 487,1276T647,1472H763Z" fill="#111" stroke="#111" stroke-width="37.7" transform="translate(0.00 0.00) scale(0.00796 -0.00796)"/>
<text x="9.1" y="0" font-size="16.3" fill="#111" stroke="#111" stroke-width="0.3" font-family="Liberation Sans, sans-serif">6</text>
</g>
<g transform="translate(464.1 108.1)">
<text x="0" y="0" font-size="16.3" fill="#111" stroke="#111" stroke-width="0.3" font-family="Liberation Sans, sans-serif">8</text>
</g>
<g transform="translate(508.2 127.4)">
<text x="0" y="0" font-size="16.3" fill="#111" stroke="#111" stroke-width="0.3" font-family="Liberation Sans, sans-serif">22</text>
</g>
<g transform="translate(423.7 241.8)">
<text x="0" y="0" font-size="16.3" fill="#111" stroke="#111" stroke-width="0.3" font-family="Liberation Sans, sans-serif">9</text>
</g>
<g transform="translate(501.8 224.6)">
<text x="0" y="0" font-size="16.3" fill="#111" stroke="#111" stroke-width="0.3" font-family="Liberation Sans, sans-serif">25</text>
</g>
<g transform="translate(552.2 225.7)">
<text x="0" y="0" font-size="16.3" fill="#111" stroke="#111" stroke-width="0.3" font-family="Liberation Sans, sans-serif">2</text>
<path d="M763,0H583V1147Q518,1085 412.5,1023T223,930V1104Q374,1175 487,1276T647,1472H763Z" fill="#111" stroke="#111" stroke-width="37.7" transform="translate(9.07 0.00) scale(0.00796 -0.00796)"/>
</g>
<g transform="translate(571.2 312.4)">
<text x="0" y="0" font-size="16.3" fill="#111" stroke="#111" stroke-width="0.3" font-family="Liberation Sans, sans-serif">20</text>
</g>
<g transform="translate(470 366.6)">
<path d="M763,0H583V1147Q518,1085 412.5,1023T223,930V1104Q374,1175 487,1276T647,1472H763Z" fill="#111" stroke="#111" stroke-width="37.7" transform="translate(0.00 0.00) scale(0.00796 -0.00796)"/>
<text x="9.1" y="0" font-size="16.3" fill="#111" stroke="#111" stroke-width="0.3" font-family="Liberation Sans, sans-serif">0</text>
</g>
<g transform="translate(526.2 408.5)">
<path d="M763,0H583V1147Q518,1085 412.5,1023T223,930V1104Q374,1175 487,1276T647,1472H763Z" fill="#111" stroke="#111" stroke-width="37.7" transform="translate(0.00 0.00) scale(0.00796 -0.00796)"/>
<text x="9.1" y="0" font-size="16.3" fill="#111" stroke="#111" stroke-width="0.3" font-family="Liberation Sans, sans-serif">7</text>
</g>
<g transform="translate(154.1 348.5)">
<path d="M763,0H583V1147Q518,1085 412.5,1023T223,930V1104Q374,1175 487,1276T647,1472H763Z" fill="#111" stroke="#111" stroke-width="37.7" transform="translate(0.00 0.00) scale(0.00796 -0.00796)"/>
<path d="M763,0H583V1147Q518,1085 412.5,1023T223,930V1104Q374,1175 487,1276T647,1472H763Z" fill="#111" stroke="#111" stroke-width="37.7" transform="translate(9.07 0.00) scale(0.00796 -0.00796)"/>
</g>
<g transform="translate(72 401)">
<text x="0" y="0" font-size="16.3" fill="#111" stroke="#111" stroke-width="0.3" font-family="Liberation Sans, sans-serif">23</text>
</g>
<g transform="translate(257.5 459.1)">
<text x="0" y="0" font-size="16.3" fill="#111" stroke="#111" stroke-width="0.3" font-family="Liberation Sans, sans-serif">24</text>
</g>
<g transform="translate(489.9 463.8)">
<path d="M763,0H583V1147Q518,1085 412.5,1023T223,930V1104Q374,1175 487,1276T647,1472H763Z" fill="#111" stroke="#111" stroke-width="37.7" transform="translate(0.00 0.00) scale(0.00796 -0.00796)"/>
<text x="9.1" y="0" font-size="16.3" fill="#111" stroke="#111" stroke-width="0.3" font-family="Liberation Sans, sans-serif">2</text>
</g>
<g transform="translate(483 562)">
<path d="M763,0H583V1147Q518,1085 412.5,1023T223,930V1104Q374,1175 487,1276T647,1472H763Z" fill="#111" stroke="#111" stroke-width="37.7" transform="translate(0.00 0.00) scale(0.00796 -0.00796)"/>
<text x="9.1" y="0" font-size="16.3" fill="#111" stroke="#111" stroke-width="0.3" font-family="Liberation Sans, sans-serif">3</text>
</g>
<g transform="translate(208.4 651)">
<path d="M763,0H583V1147Q518,1085 412.5,1023T223,930V1104Q374,1175 487,1276T647,1472H763Z" fill="#111" stroke="#111" stroke-width="37.7" transform="translate(0.00 0.00) scale(0.00796 -0.00796)"/>
<text x="9.1" y="0" font-size="16.3" fill="#111" stroke="#111" stroke-width="0.3" font-family="Liberation Sans, sans-serif">8</text>
</g>
<g transform="translate(480.3 653.7)">
<path d="M763,0H583V1147Q518,1085 412.5,1023T223,930V1104Q374,1175 487,1276T647,1472H763Z" fill="#111" stroke="#111" stroke-width="37.7" transform="translate(0.00 0.00) scale(0.00796 -0.00796)"/>
<text x="9.1" y="0" font-size="16.3" fill="#111" stroke="#111" stroke-width="0.3" font-family="Liberation Sans, sans-serif">4</text>
</g>
<g transform="translate(528.3 626.8)">
<path d="M763,0H583V1147Q518,1085 412.5,1023T223,930V1104Q374,1175 487,1276T647,1472H763Z" fill="#111" stroke="#111" stroke-width="37.7" transform="translate(0.00 0.00) scale(0.00796 -0.00796)"/>
<text x="9.1" y="0" font-size="16.3" fill="#111" stroke="#111" stroke-width="0.3" font-family="Liberation Sans, sans-serif">5</text>
</g>
<g transform="translate(208.4 746)">
<path d="M763,0H583V1147Q518,1085 412.5,1023T223,930V1104Q374,1175 487,1276T647,1472H763Z" fill="#111" stroke="#111" stroke-width="37.7" transform="translate(0.00 0.00) scale(0.00796 -0.00796)"/>
<text x="9.1" y="0" font-size="16.3" fill="#111" stroke="#111" stroke-width="0.3" font-family="Liberation Sans, sans-serif">9</text>
</g>
</g>
<text x="6.9" y="769.8" font-size="12.85" fill="#111" stroke="#111" stroke-width="0.2" font-family="Liberation Sans, sans-serif">LEFTCLUSTER</text>
<path d="M763,0H583V1147Q518,1085 412.5,1023T223,930V1104Q374,1175 487,1276T647,1472H763Z" fill="#111" stroke="#111" stroke-width="31.9" transform="translate(98.29 769.80) scale(0.00627 -0.00627)"/>
<text x="105.4" y="769.8" font-size="12.85" fill="#111" stroke="#111" stroke-width="0.2" font-family="Liberation Sans, sans-serif">-0</text>
<path d="M763,0H583V1147Q518,1085 412.5,1023T223,930V1104Q374,1175 487,1276T647,1472H763Z" fill="#111" stroke="#111" stroke-width="31.9" transform="translate(116.87 769.80) scale(0.00627 -0.00627)"/>
<text x="580.9" y="769.8" font-size="12.6" fill="#111" stroke="#111" stroke-width="0.2" font-family="Liberation Sans, sans-serif">L05</text>
<ellipse cx="220.2" cy="740.4" rx="21.8" ry="16.1" stroke-width="4.6" stroke="#10b042" fill="none"/>
</svg>
</body></html>
